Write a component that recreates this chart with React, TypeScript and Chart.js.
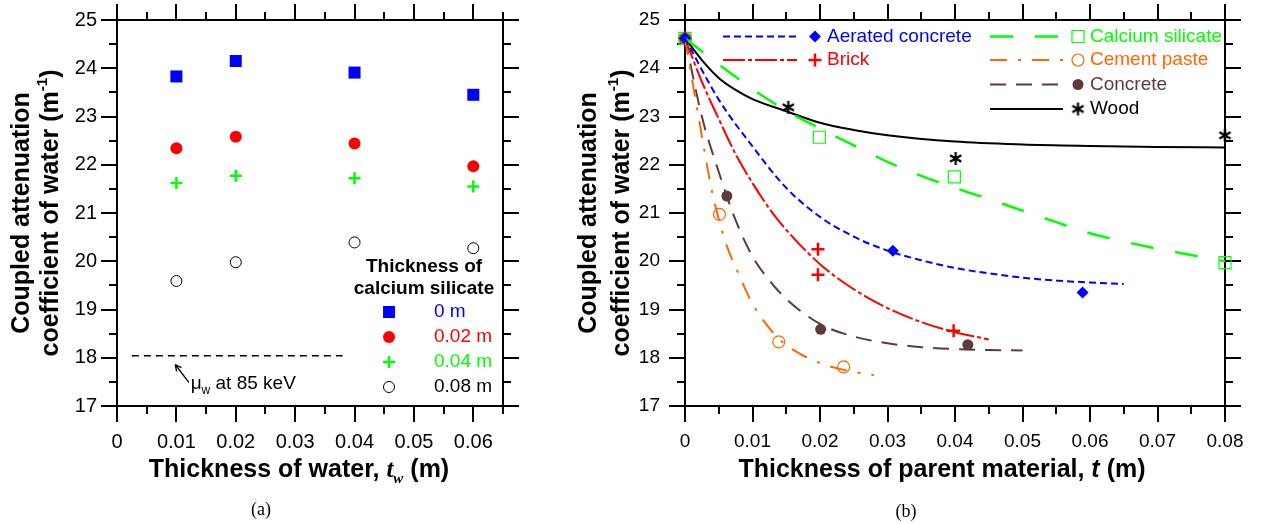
import React, { useEffect, useRef } from 'react';
import { Chart, registerables } from 'chart.js';

Chart.register(...registerables);

const SANS = '"Liberation Sans", Arial, Helvetica, sans-serif';
const SERIF = '"Liberation Serif", "Times New Roman", Times, serif';

const BLUE = '#0000ff';
const RED = '#ff0000';
const LIME = '#00ff00';
const ORANGE = '#ff6600';
const BROWN = '#5e3a3a';
const BLACK = '#000000';

// ---------------- Panel (a) data ----------------
const waterThickness = [0.01, 0.02, 0.04, 0.06];
const muCs0 = [23.83, 24.15, 23.91, 23.45];
const muCs002 = [22.34, 22.58, 22.44, 21.97];
const muCs004 = [21.62, 21.77, 21.72, 21.55];
const muCs008 = [19.59, 19.98, 20.39, 20.27];
const muWaterX = [0.0025, 0.038];
const muWaterY = [18.04, 18.04];
const legendTitleA = ['Thickness of', 'calcium silicate'];
const legendLabelsA = ['0 m', '0.02 m', '0.04 m', '0.08 m'];
const xTicksA = [0, 0.01, 0.02, 0.03, 0.04, 0.05, 0.06];
const xMinorA = [0.005, 0.015, 0.025, 0.035, 0.045, 0.055, 0.065];
const yTicks = [17, 18, 19, 20, 21, 22, 23, 24, 25];
const yMinor = [17.5, 18.5, 19.5, 20.5, 21.5, 22.5, 23.5, 24.5];

// ---------------- Panel (b) data ----------------
const xTicksB = [0, 0.01, 0.02, 0.03, 0.04, 0.05, 0.06, 0.07, 0.08];
const xMinorB = [0.005, 0.015, 0.025, 0.035, 0.045, 0.055, 0.065, 0.075];

const aeratedT = [0, 0.0308, 0.0589];
const aeratedMu = [24.62, 20.22, 19.35];
const brickT = [0, 0.0197, 0.0197, 0.0398];
const brickMu = [24.62, 20.25, 19.72, 18.56];
const calSilT = [0, 0.0199, 0.0399, 0.08];
const calSilMu = [24.62, 22.57, 21.75, 19.97];
const cementT = [0, 0.0051, 0.0139, 0.0235];
const cementMu = [24.62, 20.97, 18.33, 17.81];
const concreteT = [0, 0.0062, 0.0201, 0.0419];
const concreteMu = [24.62, 21.35, 18.59, 18.27];
const woodT = [0, 0.0153, 0.0401, 0.08];
const woodMu = [24.62, 23.19, 22.13, 22.61];

const aeratedFitT = [0, 0.005, 0.01, 0.015, 0.02, 0.025, 0.03, 0.035, 0.04, 0.045, 0.05, 0.055, 0.06, 0.065];
const aeratedFitMu = [24.62, 23.35, 22.38, 21.52, 20.92, 20.51, 20.22, 20.02, 19.86, 19.75, 19.66, 19.6, 19.56, 19.53];
const brickFitT = [0, 0.0025, 0.005, 0.0075, 0.01, 0.0125, 0.015, 0.02, 0.025, 0.03, 0.035, 0.04, 0.045];
const brickFitMu = [24.62, 23.72, 22.95, 22.22, 21.62, 21.09, 20.65, 19.94, 19.42, 19.03, 18.74, 18.53, 18.38];
const calSilFitT = [0, 0.005, 0.01, 0.015, 0.02, 0.025, 0.03, 0.035, 0.04, 0.045, 0.05, 0.055, 0.06, 0.065, 0.07, 0.075, 0.08];
const calSilFitMu = [24.62, 24.08, 23.57, 23.12, 22.75, 22.4, 22.06, 21.77, 21.52, 21.29, 21.05, 20.81, 20.58, 20.41, 20.26, 20.13, 20.0];
const cementFitT = [0, 0.002, 0.004, 0.006, 0.008, 0.01, 0.012, 0.014, 0.016, 0.018, 0.02, 0.022, 0.025, 0.028];
const cementFitMu = [24.62, 23.0, 21.45, 20.4, 19.72, 19.12, 18.7, 18.38, 18.17, 18.01, 17.89, 17.8, 17.71, 17.64];
const concreteFitT = [0, 0.0025, 0.005, 0.0075, 0.01, 0.0125, 0.015, 0.02, 0.025, 0.03, 0.035, 0.04, 0.045, 0.05];
const concreteFitMu = [24.62, 23.0, 21.85, 20.85, 20.1, 19.6, 19.22, 18.7, 18.44, 18.3, 18.22, 18.18, 18.16, 18.15];
const woodFitT = [0, 0.0025, 0.005, 0.0075, 0.01, 0.015, 0.02, 0.025, 0.03, 0.04, 0.05, 0.06, 0.07, 0.08];
const woodFitMu = [24.62, 24.17, 23.8, 23.55, 23.36, 23.11, 22.87, 22.72, 22.61, 22.48, 22.42, 22.39, 22.37, 22.36];

const legendLabelsB = ['Aerated concrete', 'Brick', 'Calcium silicate', 'Cement paste', 'Concrete', 'Wood'];

// ---------------- helpers ----------------
const pts = (xs: number[], ys: number[]) => xs.map((x, i) => ({ x, y: ys[i] }));
const fmt = (v: number) => String(Math.round(v * 1000) / 1000);

type Marker = { style: string; r: number; fill: string; stroke: string; lw: number };

const mkA: Marker[] = [
  { style: 'rect', r: 8.5, fill: BLUE, stroke: BLUE, lw: 0 },
  { style: 'circle', r: 6, fill: RED, stroke: RED, lw: 0 },
  { style: 'cross', r: 6, fill: LIME, stroke: LIME, lw: 2.5 },
  { style: 'circle', r: 5.5, fill: 'rgba(0,0,0,0)', stroke: BLACK, lw: 1 },
];
const colA = [BLUE, RED, LIME, BLACK];

const mkB: Marker[] = [
  { style: 'rectRot', r: 6, fill: BLUE, stroke: BLUE, lw: 0 },
  { style: 'cross', r: 6.5, fill: RED, stroke: RED, lw: 2.5 },
  { style: 'rect', r: 8.5, fill: 'rgba(0,0,0,0)', stroke: LIME, lw: 1.2 },
  { style: 'circle', r: 6, fill: 'rgba(0,0,0,0)', stroke: ORANGE, lw: 1.2 },
  { style: 'circle', r: 5.5, fill: BROWN, stroke: BROWN, lw: 0 },
  { style: 'asterisk', r: 7, fill: BLACK, stroke: BLACK, lw: 2 },
];
const colB = [BLUE, RED, LIME, ORANGE, BROWN, BLACK];
const dashB = [[7, 4], [22, 3, 4, 3], [23, 22], [17, 11, 3, 11], [16, 10], []];
const widthB = [2, 2, 2.5, 2, 2, 2];

function makeAsterisk(): HTMLCanvasElement {
  const size = 15;
  const c = document.createElement('canvas');
  c.width = size;
  c.height = size;
  const g = c.getContext('2d')!;
  g.strokeStyle = BLACK;
  g.lineWidth = 2.2;
  const r = size / 2 - 1;
  const cx = size / 2;
  const cy = size / 2;
  g.beginPath();
  for (const a of [90, 30, 150]) {
    const t = (a * Math.PI) / 180;
    g.moveTo(cx - r * Math.cos(t), cy - r * Math.sin(t));
    g.lineTo(cx + r * Math.cos(t), cy + r * Math.sin(t));
  }
  g.stroke();
  return c;
}

function drawMarker(ctx: CanvasRenderingContext2D, m: Marker, x: number, y: number, star: HTMLCanvasElement) {
  ctx.save();
  ctx.lineWidth = m.lw;
  ctx.strokeStyle = m.stroke;
  ctx.fillStyle = m.fill;
  ctx.setLineDash([]);
  ctx.beginPath();
  if (m.style === 'rect') {
    const s = m.r * Math.SQRT1_2;
    ctx.rect(x - s, y - s, 2 * s, 2 * s);
    ctx.fill();
    if (m.lw) ctx.stroke();
  } else if (m.style === 'rectRot') {
    ctx.moveTo(x - m.r, y);
    ctx.lineTo(x, y - m.r);
    ctx.lineTo(x + m.r, y);
    ctx.lineTo(x, y + m.r);
    ctx.closePath();
    ctx.fill();
    if (m.lw) ctx.stroke();
  } else if (m.style === 'circle') {
    ctx.arc(x, y, m.r, 0, Math.PI * 2);
    ctx.fill();
    if (m.lw) ctx.stroke();
  } else if (m.style === 'cross') {
    ctx.moveTo(x - m.r, y);
    ctx.lineTo(x + m.r, y);
    ctx.moveTo(x, y - m.r);
    ctx.lineTo(x, y + m.r);
    ctx.stroke();
  } else if (m.style === 'asterisk') {
    ctx.drawImage(star, x - star.width / 2, y - star.height / 2);
  }
  ctx.restore();
}

function pointDs(data: { x: number; y: number }[], m: Marker, star: HTMLCanvasElement) {
  return {
    data,
    showLine: false,
    pointStyle: m.style === 'asterisk' ? star : m.style,
    pointRadius: m.r,
    pointBackgroundColor: m.fill,
    pointBorderColor: m.stroke,
    pointBorderWidth: m.lw,
    backgroundColor: m.fill,
    borderColor: m.stroke,
    clip: false as any,
  };
}

function lineDs(data: { x: number; y: number }[], color: string, width: number, dash: number[]) {
  return {
    data,
    showLine: true,
    pointRadius: 0,
    borderColor: color,
    backgroundColor: color,
    borderWidth: width,
    borderDash: dash,
    cubicInterpolationMode: 'monotone' as const,
    fill: false,
  };
}

function frameTicks(xMajor: number[], xMinor: number[], yMajor: number[], yMinorV: number[]) {
  return {
    id: 'frameTicks',
    beforeDatasetsDraw(chart: any) {
      const { ctx, chartArea: a, scales } = chart;
      const sx = scales.x;
      const sy = scales.y;
      const MAJ = 16;
      const MIN = 8;
      ctx.save();
      ctx.strokeStyle = BLACK;
      ctx.lineWidth = 2;
      ctx.setLineDash([]);
      ctx.strokeRect(a.left, a.top, a.right - a.left, a.bottom - a.top);
      ctx.beginPath();
      const xt = (v: number, len: number) => {
        const p = Math.round(sx.getPixelForValue(v));
        ctx.moveTo(p, a.bottom);
        ctx.lineTo(p, a.bottom + len);
        ctx.moveTo(p, a.top);
        ctx.lineTo(p, a.top - len);
      };
      const yt = (v: number, len: number) => {
        const p = Math.round(sy.getPixelForValue(v));
        ctx.moveTo(a.left, p);
        ctx.lineTo(a.left - len, p);
        ctx.moveTo(a.right, p);
        ctx.lineTo(a.right + len, p);
      };
      xMajor.forEach((v) => xt(v, MAJ));
      xMinor.forEach((v) => xt(v, MIN));
      yMajor.forEach((v) => yt(v, MAJ));
      yMinorV.forEach((v) => yt(v, MIN));
      ctx.stroke();
      ctx.restore();
    },
  };
}

type Run = { text: string; font: string; dy?: number };

function runsWidth(ctx: CanvasRenderingContext2D, runs: Run[]) {
  let w = 0;
  for (const r of runs) {
    ctx.font = r.font;
    w += ctx.measureText(r.text).width;
  }
  return w;
}

function drawRuns(ctx: CanvasRenderingContext2D, runs: Run[], cx: number, y: number) {
  const total = runsWidth(ctx, runs);
  let x = cx - total / 2;
  ctx.textAlign = 'left';
  for (const r of runs) {
    ctx.font = r.font;
    ctx.fillText(r.text, x, y + (r.dy || 0));
    x += ctx.measureText(r.text).width;
  }
}

function drawYTitle(ctx: CanvasRenderingContext2D, x1: number, x2: number, cy: number) {
  ctx.save();
  ctx.fillStyle = BLACK;
  ctx.textBaseline = 'middle';
  ctx.translate(x1, cy);
  ctx.rotate(-Math.PI / 2);
  const F = `bold 25px ${SANS}`;
  drawRuns(ctx, [{ text: 'Coupled attenuation', font: F }], 0, 0);
  drawRuns(
    ctx,
    [
      { text: 'coefficient of water (m', font: F },
      { text: '-1', font: `bold 15px ${SANS}`, dy: -8 },
      { text: ')', font: F },
    ],
    0,
    x2 - x1
  );
  ctx.restore();
}

const TICK_A = { family: SANS, size: 20 };
const TICK_B = { family: SANS, size: 19 };

function axes(xMax: number, xTicks: number[], yW: number, font: any, yGap: number) {
  return {
    x: {
      type: 'linear' as const,
      min: 0,
      max: xMax,
      afterBuildTicks: (s: any) => {
        s.ticks = xTicks.map((v) => ({ value: v }));
      },
      afterFit: (s: any) => {
        s.height = 118;
        s.paddingLeft = 0;
        s.paddingRight = 0;
      },
      ticks: { font, color: BLACK, padding: 0, maxRotation: 0, autoSkip: false, callback: (v: any) => fmt(Number(v)) },
      grid: { display: false, drawTicks: true, tickLength: 24 },
      border: { display: false },
    },
    y: {
      type: 'linear' as const,
      min: 17,
      max: 25,
      afterBuildTicks: (s: any) => {
        s.ticks = yTicks.map((v) => ({ value: v }));
      },
      afterFit: (s: any) => {
        s.width = yW;
        s.paddingTop = 0;
        s.paddingBottom = 0;
      },
      ticks: { font, color: BLACK, padding: 0, autoSkip: false, callback: (v: any) => fmt(Number(v)) },
      grid: { display: false, drawTicks: true, tickLength: yGap },
      border: { display: false },
    },
  };
}

export default function App() {
  const refA = useRef<HTMLCanvasElement>(null);
  const refB = useRef<HTMLCanvasElement>(null);

  useEffect(() => {
    Chart.defaults.font.family = SANS;
    const star = makeAsterisk();

    // ---------------- Chart (a) ----------------
    const seriesA = [muCs0, muCs002, muCs004, muCs008];
    const decorA = {
      id: 'decorA',
      afterDraw(chart: any) {
        const { ctx, scales } = chart;
        const sx = scales.x;
        const sy = scales.y;
        ctx.save();
        ctx.fillStyle = BLACK;
        ctx.textBaseline = 'alphabetic';
        drawRuns(
          ctx,
          [
            { text: 'Thickness of water, ', font: `bold 25px ${SANS}` },
            { text: 't', font: `italic bold 25px ${SERIF}` },
            { text: 'w', font: `italic bold 15px ${SERIF}`, dy: 6 },
            { text: ' (m)', font: `bold 25px ${SANS}` },
          ],
          299,
          477
        );
        drawYTitle(ctx, 22, 51, (chart.chartArea.top + chart.chartArea.bottom) / 2);
        // legend
        ctx.fillStyle = BLACK;
        ctx.textBaseline = 'middle';
        ctx.textAlign = 'center';
        ctx.font = `bold 19px ${SANS}`;
        ctx.fillText(legendTitleA[0], 424, 267);
        ctx.fillText(legendTitleA[1], 424, 289);
        const rows = [312, 337, 362, 387];
        legendLabelsA.forEach((lab, i) => {
          drawMarker(ctx, mkA[i], 389, rows[i], star);
          ctx.fillStyle = colA[i];
          ctx.font = `19px ${SANS}`;
          ctx.textAlign = 'left';
          ctx.fillText(lab, 434, rows[i]);
        });
        // annotation arrow
        const tx = sx.getPixelForValue(0.0098);
        const ty = sy.getPixelForValue(17.86);
        const fx = sx.getPixelForValue(0.0121);
        const fy = sy.getPixelForValue(17.49);
        ctx.strokeStyle = BLACK;
        ctx.lineWidth = 1.3;
        ctx.beginPath();
        ctx.moveTo(fx, fy);
        ctx.lineTo(tx, ty);
        const ang = Math.atan2(ty - fy, tx - fx);
        const hl = 7;
        ctx.moveTo(tx, ty);
        ctx.lineTo(tx - hl * Math.cos(ang - 0.45), ty - hl * Math.sin(ang - 0.45));
        ctx.moveTo(tx, ty);
        ctx.lineTo(tx - hl * Math.cos(ang + 0.45), ty - hl * Math.sin(ang + 0.45));
        ctx.stroke();
        ctx.fillStyle = BLACK;
        ctx.textBaseline = 'alphabetic';
        const ax = sx.getPixelForValue(0.0124);
        const ay = sy.getPixelForValue(17.36);
        const runs: Run[] = [
          { text: '\u03bc', font: `19px ${SANS}` },
          { text: 'w', font: `12px ${SANS}`, dy: 5 },
          { text: ' at 85 keV', font: `19px ${SANS}` },
        ];
        drawRuns(ctx, runs, ax + runsWidth(ctx, runs) / 2, ay);
        ctx.restore();
      },
    };

    const chartA = new Chart(refA.current!, {
      type: 'scatter',
      data: {
        datasets: [
          lineDs(pts(muWaterX, muWaterY), BLACK, 1.5, [7, 5]) as any,
          ...seriesA.map((s, i) => pointDs(pts(waterThickness, s), mkA[i], star) as any),
        ],
      },
      options: {
        animation: false,
        responsive: false,
        events: [],
        layout: { padding: { left: 0, top: 20, right: 57, bottom: 0 } },
        plugins: { legend: { display: false }, tooltip: { enabled: false } },
        scales: axes(0.065, xTicksA, 117, TICK_A, 20) as any,
      },
      plugins: [frameTicks(xTicksA, xMinorA, yTicks, yMinor), decorA],
    });

    // ---------------- Chart (b) ----------------
    const fits = [
      pts(aeratedFitT, aeratedFitMu),
      pts(brickFitT, brickFitMu),
      pts(calSilFitT, calSilFitMu),
      pts(cementFitT, cementFitMu),
      pts(concreteFitT, concreteFitMu),
      pts(woodFitT, woodFitMu),
    ];
    const marks = [
      pts(aeratedT, aeratedMu),
      pts(brickT, brickMu),
      pts(calSilT, calSilMu),
      pts(cementT, cementMu),
      pts(concreteT, concreteMu),
      pts(woodT, woodMu),
    ];

    const decorB = {
      id: 'decorB',
      afterDraw(chart: any) {
        const { ctx, chartArea: a } = chart;
        ctx.save();
        ctx.fillStyle = BLACK;
        ctx.textBaseline = 'alphabetic';
        drawRuns(
          ctx,
          [
            { text: 'Thickness of parent material, ', font: `bold 25px ${SANS}` },
            { text: 't', font: `italic bold 25px ${SANS}` },
            { text: ' (m)', font: `bold 25px ${SANS}` },
          ],
          382,
          477
        );
        drawYTitle(ctx, 29, 62, (a.top + a.bottom) / 2);
        const cols = [
          { l0: a.left + 38, l1: a.left + 112, mk: a.left + 130, tx: a.left + 142 },
          { l0: a.left + 305, l1: a.left + 378, mk: a.left + 393, tx: a.left + 405 },
        ];
        const place = [
          [0, 36.5],
          [0, 60],
          [1, 36.5],
          [1, 60],
          [1, 84.5],
          [1, 109],
        ];
        legendLabelsB.forEach((lab, i) => {
          const c = cols[place[i][0]];
          const y = place[i][1];
          ctx.save();
          ctx.strokeStyle = colB[i];
          ctx.lineWidth = widthB[i];
          ctx.setLineDash(dashB[i]);
          ctx.beginPath();
          ctx.moveTo(c.l0, y);
          ctx.lineTo(c.l1, y);
          ctx.stroke();
          ctx.restore();
          drawMarker(ctx, mkB[i], c.mk, y, star);
          ctx.fillStyle = colB[i];
          ctx.font = `19px ${SANS}`;
          ctx.textAlign = 'left';
          ctx.textBaseline = 'middle';
          ctx.fillText(lab, c.tx, y);
        });
        ctx.restore();
      },
    };

    const chartB = new Chart(refB.current!, {
      type: 'scatter',
      data: {
        datasets: [
          ...fits.map((d, i) => lineDs(d, colB[i], widthB[i], dashB[i]) as any),
          ...marks.map((d, i) => pointDs(d, mkB[i], star) as any),
        ],
      },
      options: {
        animation: false,
        responsive: false,
        events: [],
        layout: { padding: { left: 0, top: 20, right: 36, bottom: 0 } },
        plugins: { legend: { display: false }, tooltip: { enabled: false } },
        scales: axes(0.08, xTicksB, 125, TICK_B, 25) as any,
      },
      plugins: [frameTicks(xTicksB, xMinorB, yTicks, yMinor), decorB],
    });

    return () => {
      chartA.destroy();
      chartB.destroy();
    };
  }, []);

  const cap: React.CSSProperties = {
    position: 'absolute',
    transform: 'translate(-50%, -50%)',
    fontFamily: SERIF,
    fontSize: 18,
    lineHeight: 1,
    color: BLACK,
  };

  return (
    <div style={{ position: 'absolute', left: 0, top: 0, width: 1261, height: 524, background: '#fff', overflow: 'hidden' }}>
      <div style={{ position: 'absolute', left: 0, top: 0, width: 560, height: 524 }}>
        <canvas ref={refA} width={560} height={524} style={{ display: 'block' }} />
      </div>
      <div style={{ position: 'absolute', left: 560, top: 0, width: 701, height: 524 }}>
        <canvas ref={refB} width={701} height={524} style={{ display: 'block' }} />
      </div>
      <div style={{ ...cap, left: 261, top: 509 }}>(a)</div>
      <div style={{ ...cap, left: 906, top: 511 }}>(b)</div>
    </div>
  );
}
